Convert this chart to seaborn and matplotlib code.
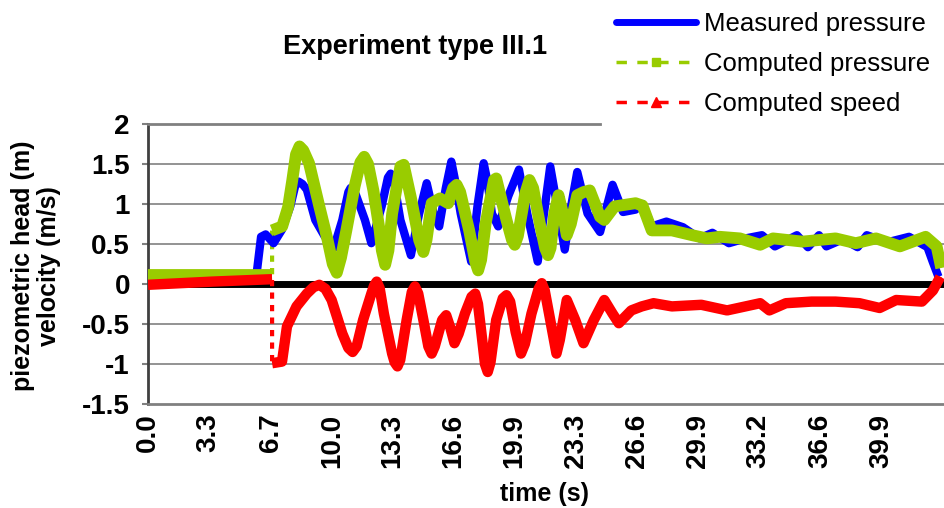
import matplotlib
matplotlib.use("Agg")
import matplotlib.pyplot as plt
import seaborn as sns
from matplotlib.lines import Line2D

# Measured pressure (m) vs time (s)
meas_t = [0.0, 3.0, 5.8, 5.93, 6.15, 6.4, 6.83, 7.29, 7.74, 8.0, 8.19, 8.4, 8.64,
          9.1, 9.6, 10.11, 10.57, 10.9, 11.02, 11.3, 11.8, 12.15, 12.71, 13.05, 13.2,
          13.4, 13.73, 14.3, 14.75, 15.16, 15.54, 15.84, 16.2, 16.5, 16.7, 17.01,
          17.58, 17.92, 18.26, 18.45, 18.71, 19.05, 19.6, 20.18, 20.63, 21.2, 21.55,
          21.88, 22.33, 22.67, 23.0, 23.35, 23.91, 24.59, 25.27, 25.84, 26.52, 26.9,
          27.4, 28.2, 29.1, 30.0, 30.7, 31.6, 32.5, 33.4, 34.1, 35.3, 35.9, 36.5,
          36.9, 37.8, 38.6, 39.1, 40.2, 41.4, 42.4, 42.7, 43.0]
meas_v = [0.09, 0.09, 0.09, 0.17, 0.59, 0.62, 0.51, 0.68, 0.97, 1.22, 1.28, 1.25, 1.18,
          0.80, 0.60, 0.45, 0.80, 1.15, 1.20, 1.12, 0.80, 0.51, 0.97, 1.33, 1.38,
          1.25, 0.80, 0.36, 0.88, 1.26, 0.88, 0.72, 1.20, 1.53, 1.30, 0.88,
          0.28, 0.97, 1.51, 1.30, 0.88, 0.72, 1.10, 1.43, 0.88, 0.28, 0.90,
          1.47, 0.88, 0.43, 0.95, 1.40, 0.88, 0.65, 1.24, 0.90, 0.93, 1.00,
          0.72, 0.78, 0.71, 0.57, 0.64, 0.51, 0.57, 0.61, 0.47, 0.61, 0.46, 0.61,
          0.47, 0.56, 0.46, 0.61, 0.52, 0.59, 0.46, 0.27, 0.09]

# Computed pressure: before and after the jump at valve closure
cp_pre_t = [0.0, 6.75]
cp_pre_v = [0.11, 0.11]
cp_t = [6.75, 7.3, 7.62, 7.85, 8.05, 8.24, 8.45, 8.76, 9.32, 9.77, 10.05, 10.27, 10.5,
        10.79, 11.24, 11.55, 11.76, 11.97, 12.26, 12.6, 12.72, 12.9, 13.08, 13.28,
        13.73, 13.91, 14.3, 14.75, 14.98, 15.15, 15.43, 15.88, 16.33, 16.6, 16.79,
        16.98, 17.47, 17.8, 17.96, 18.12, 18.37, 18.82, 18.94, 19.5, 19.8, 19.95,
        20.12, 20.52, 20.75, 20.95, 21.31, 21.6, 21.76, 21.9, 22.1, 22.33, 22.55,
        22.78, 23.0, 23.35, 23.7, 24.03, 24.59, 24.82, 25.38, 26.52, 26.9, 27.4,
        28.5, 29.6, 30.4, 31.1, 32.2, 33.3, 34.0, 35.6, 37.4, 38.5, 39.6, 40.9,
        42.3, 42.9, 43.15]
cp_v = [0.67, 0.72, 0.96, 1.30, 1.62, 1.72, 1.67, 1.51, 0.97, 0.55, 0.25, 0.14, 0.33,
        0.67, 1.22, 1.52, 1.59, 1.50, 1.17, 0.67, 0.42, 0.24, 0.42, 0.88,
        1.47, 1.49, 1.08, 0.55, 0.40, 0.55, 1.01, 1.07, 1.01, 1.20, 1.24,
        1.15, 0.67, 0.28, 0.17, 0.30, 0.76, 1.30, 1.32, 0.80, 0.55, 0.49,
        0.60, 1.13, 1.30, 1.20, 0.76, 0.45, 0.36, 0.45, 0.88, 1.11, 0.90,
        0.61, 0.75, 1.11, 1.15, 1.17, 0.84, 0.80, 0.97, 1.01, 0.98, 0.67,
        0.67, 0.61, 0.57, 0.59, 0.57, 0.49, 0.57, 0.53, 0.57, 0.51, 0.57, 0.47,
        0.59, 0.47, 0.20]

# Computed speed (m/s)
cs_pre_t = [0.0, 3.5, 6.75]
cs_pre_v = [-0.01, 0.03, 0.06]
cs_t = [6.75, 7.29, 7.56, 8.08, 8.64, 9.0, 9.32, 9.65, 9.99, 10.57, 10.9, 11.13, 11.35,
        11.7, 12.15, 12.3, 12.44, 12.6, 12.83, 13.28, 13.42, 13.57, 13.72, 14.07,
        14.35, 14.52, 14.7, 14.98, 15.25, 15.43, 15.6, 16.0, 16.22, 16.45, 16.67,
        16.9, 17.24, 17.6, 17.8, 17.95, 18.14, 18.33, 18.48, 18.63, 18.94, 19.3,
        19.5, 19.7, 20.0, 20.29, 20.5, 20.86, 21.25, 21.42, 21.58, 21.88, 22.22,
        22.4, 22.78, 23.24, 23.69, 24.25, 24.82, 25.27, 25.61, 26.29, 26.86, 27.5,
        28.5, 30.1, 31.5, 32.5, 33.3, 33.8, 34.7, 36.1, 37.4, 38.7, 39.8, 40.7,
        42.1, 42.7, 43.1]
cs_v = [-0.99, -0.97, -0.53, -0.28, -0.12, -0.04, -0.01, -0.06, -0.20, -0.62, -0.80,
        -0.85, -0.78, -0.45, -0.12, -0.02, 0.03, -0.05, -0.37, -0.87, -0.98, -1.03,
        -0.95, -0.45, -0.10, -0.03, -0.12, -0.45, -0.78, -0.87, -0.78, -0.45, -0.39,
        -0.55, -0.74, -0.62, -0.37, -0.16, -0.12, -0.25, -0.62, -1.00, -1.10, -0.98,
        -0.45, -0.18, -0.14, -0.22, -0.60, -0.87, -0.75, -0.37, -0.06, 0.01, -0.08,
        -0.45, -0.87, -0.70, -0.20, -0.45, -0.74, -0.45, -0.20, -0.37, -0.49, -0.33,
        -0.28, -0.24, -0.28, -0.26, -0.33, -0.28, -0.24, -0.33, -0.24, -0.22, -0.22,
        -0.24, -0.30, -0.20, -0.22, -0.08, 0.09]

tick_labels = ["0.0", "3.3", "6.7", "10.0", "13.3", "16.6", "19.9",
               "23.3", "26.6", "29.9", "33.2", "36.6", "39.9"]

BLUE = "#0000FF"
GREEN = "#99CC00"
RED = "#FF0000"
GRID = "#808080"

sns.set_style("white")
plt.rcParams["font.family"] = ["Liberation Sans", "DejaVu Sans"]
plt.rcParams["text.color"] = "black"
plt.rcParams["xtick.color"] = "black"
plt.rcParams["ytick.color"] = "black"

fig = plt.figure(figsize=(9.44, 5.08), dpi=100)
ax = fig.add_axes([148 / 944, 1 - 404 / 508, 796 / 944, 280 / 508])

# grid + zero line
for yv in [-1.0, -0.5, 0.5, 1.0, 1.5]:
    ax.axhline(yv, color=GRID, lw=1.2, zorder=0)
ax.axhline(0, color="black", lw=5, zorder=1)

# thin dashed connectors (only visible at the jumps)
dash = (0, (1.5, 1.5))
sns.lineplot(x=cp_pre_t + cp_t, y=cp_pre_v + cp_v, ax=ax, color=GREEN, lw=3,
             linestyle=dash, sort=False, estimator=None, zorder=2)
sns.lineplot(x=cs_pre_t + cs_t, y=cs_pre_v + cs_v, ax=ax, color=RED, lw=3,
             linestyle=dash, sort=False, estimator=None, zorder=2)

# thick series
kw = dict(ax=ax, sort=False, estimator=None, solid_joinstyle="round",
          solid_capstyle="butt")
sns.lineplot(x=meas_t, y=meas_v, color=BLUE, lw=6, zorder=3, **kw)
sns.lineplot(x=cp_pre_t, y=cp_pre_v, color=GREEN, lw=8.5, zorder=4, **kw)
sns.lineplot(x=cp_t, y=cp_v, color=GREEN, lw=8.5, zorder=4, **kw)
sns.lineplot(x=cs_pre_t, y=cs_pre_v, color=RED, lw=7.5, zorder=5, **kw)
sns.lineplot(x=cs_t, y=cs_v, color=RED, lw=7.5, zorder=5, **kw)

ax.set_xlim(0, 43.3)
ax.set_ylim(-1.5, 2)
ax.set_xticks([float(s) for s in tick_labels])
ax.set_xticklabels(tick_labels, rotation=90, fontsize=20, fontweight="bold")
ax.set_yticks([-1.5, -1, -0.5, 0, 0.5, 1, 1.5, 2])
ax.set_yticklabels(["-1.5", "-1", "-0.5", "0", "0.5", "1", "1.5", "2"],
                   fontsize=20, fontweight="bold")
ax.tick_params(axis="x", length=0, pad=7)
ax.tick_params(axis="y", length=4, width=1.5, color=GRID, labelcolor="black",
               pad=9, left=True)
ax.set_xlabel("")
ax.set_ylabel("")

for side in ["top", "bottom"]:
    ax.spines[side].set_color(GRID)
    ax.spines[side].set_linewidth(2)
# the legend box hides the right part of the top border
ax.spines["top"].set_bounds(0, 24.6)
ax.spines["left"].set_color("#404040")
ax.spines["left"].set_linewidth(2)
ax.spines["right"].set_visible(False)

fig.text(415 / 944, 1 - 47 / 508, "Experiment type III.1", ha="center", va="center",
         fontsize=19.5, fontweight="bold")
fig.text(36 / 944, 1 - 266 / 508, "piezometric head (m)\nvelocity (m/s)", ha="center",
         va="center", rotation=90, fontsize=18, fontweight="bold", linespacing=1.1)
fig.text(545 / 944, 1 - 494 / 508, "time (s)", ha="center", va="center",
         fontsize=18, fontweight="bold")

handles = [
    Line2D([], [], color=BLUE, lw=5, solid_capstyle="round"),
    Line2D([], [], color=GREEN, lw=2.5, linestyle=(0, (3, 3)), marker="s",
           markersize=6),
    Line2D([], [], color=RED, lw=2.5, linestyle=(0, (3, 3)), marker="^",
           markersize=7),
]
leg = fig.legend(handles, ["Measured pressure", "Computed pressure", "Computed speed"],
                 loc="upper right", bbox_to_anchor=(1.011, 1.025), fontsize=18.5,
                 numpoints=1, handlelength=3.1, handletextpad=0.3, labelspacing=0.62,
                 frameon=True, fancybox=False, borderpad=0.45)
leg.get_frame().set_facecolor("white")
leg.get_frame().set_edgecolor("white")

fig.savefig("out.png", dpi=100)
